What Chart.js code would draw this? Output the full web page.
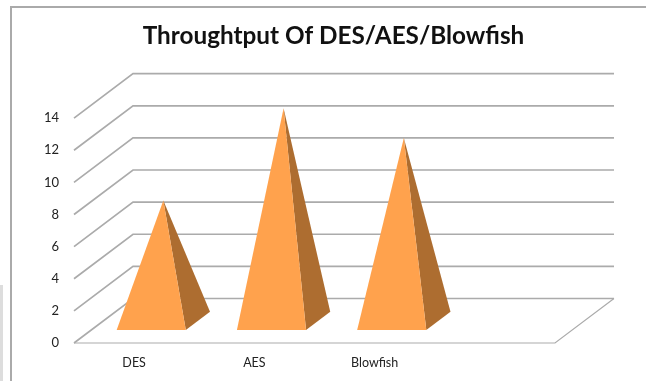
<!DOCTYPE html>
<html>
<head>
<meta charset="utf-8">
<title>Throughtput Of DES/AES/Blowfish</title>
<style>
  html, body { margin: 0; padding: 0; background: #fff; overflow: hidden; }
  #stage { position: relative; width: 646px; height: 381px; }
  #frame { position: absolute; left: 10px; top: 6px; right: -4px; bottom: -4px;
           border: 2px solid #aaa; box-sizing: border-box; }
  #sliver { position: absolute; left: 0; top: 285px; width: 3px; bottom: 0; background: #ddd; }
  canvas { position: absolute; left: 0; top: 0; }
</style>
<script src="https://cdn.jsdelivr.net/npm/chart.js@4"></script>
</head>
<body>
<div id="stage">
  <div id="frame"></div>
  <div id="sliver"></div>
  <canvas id="chart" width="646" height="381"></canvas>
</div>
<script>
const chartTitle = 'Throughtput Of DES/AES/Blowfish';
const categories = ['DES', 'AES', 'Blowfish', ''];
const throughput = [7.5, 13.25, 11.4, null];
const yMin = 0;
const yMax = 14;
const yStep = 2;

// Oblique projection of the 3-D box: how far the back wall sits from the front plane.
const DEPTH_X = 59;
const DEPTH_Y = 44.5;
// Front and back of each pyramid's footprint, as fractions of the box depth.
const BASE_FRONT = 0.29;
const BASE_BACK = 0.7;

const FRONT_FACE = '#FFA24D';
const SIDE_FACE = '#AD6D30';
const GRID_COLOR = '#ABABAB';
const TEXT_COLOR = '#222';
const FONT_FAMILY = 'Lato, "Open Sans", sans-serif';

const project = (x, y, depth) => [x + DEPTH_X * depth, y - DEPTH_Y * depth];

// A bar element that paints itself as a square pyramid on the floor of the box.
class PyramidElement extends Chart.BarElement {
  static id = 'pyramid';
  draw(ctx) {
    const half = this.width / 2;
    const tip = project(this.x, this.y, (BASE_FRONT + BASE_BACK) / 2);
    const frontLeft = project(this.x - half, this.base, BASE_FRONT);
    const frontRight = project(this.x + half, this.base, BASE_FRONT);
    const backRight = project(this.x + half, this.base, BASE_BACK);
    const face = (color, a, b) => {
      ctx.fillStyle = color;
      ctx.beginPath();
      ctx.moveTo(a[0], a[1]);
      ctx.lineTo(b[0], b[1]);
      ctx.lineTo(tip[0], tip[1]);
      ctx.closePath();
      ctx.fill();
    };
    ctx.save();
    face(SIDE_FACE, frontRight, backRight);
    face(FRONT_FACE, frontLeft, frontRight);
    ctx.restore();
  }
}

class PyramidController extends Chart.BarController {
  static id = 'pyramid';
  static defaults = { dataElementType: 'pyramid' };
  static overrides = Chart.BarController.overrides;
}

Chart.register(PyramidElement, PyramidController);

// Side-wall, back-wall and floor lines of the box, taken from the value axis.
const boxGrid = {
  id: 'boxGrid',
  beforeDatasetsDraw(chart) {
    const { ctx, chartArea, scales } = chart;
    const yScale = scales.y;
    const left = chartArea.left;
    const right = chartArea.right;
    ctx.save();
    ctx.strokeStyle = GRID_COLOR;
    ctx.lineWidth = 1.7;
    yScale.ticks.forEach(tick => {
      const y = yScale.getPixelForValue(tick.value);
      const back = project(left, y, 1);
      ctx.beginPath();
      ctx.moveTo(left, y);
      ctx.lineTo(back[0], back[1]);
      ctx.lineTo(right + DEPTH_X, back[1]);
      ctx.stroke();
    });
    const floorY = yScale.getPixelForValue(yMin);
    const corner = project(right, floorY, 1);
    ctx.lineWidth = 1.2;
    ctx.beginPath();
    ctx.moveTo(left, floorY);
    ctx.lineTo(right, floorY);
    ctx.lineTo(corner[0], corner[1]);
    ctx.stroke();
    ctx.restore();
  }
};

new Chart(document.getElementById('chart'), {
  type: 'pyramid',
  data: {
    labels: categories,
    datasets: [{
      label: 'Throughput',
      data: throughput,
      categoryPercentage: 1,
      barPercentage: 0.575,
      clip: false,
      backgroundColor: FRONT_FACE
    }]
  },
  options: {
    responsive: false,
    animation: false,
    layout: { padding: { left: 21, right: 0, top: 0, bottom: 0 } },
    plugins: {
      legend: { display: false },
      tooltip: { enabled: false },
      title: {
        display: true,
        text: chartTitle,
        color: '#111',
        font: { family: FONT_FAMILY, size: 24.3, weight: 'bold', lineHeight: 1.2 },
        padding: { top: 22, bottom: 67 }
      }
    },
    scales: {
      x: {
        type: 'category',
        grid: { display: false },
        border: { display: false },
        ticks: {
          color: TEXT_COLOR,
          font: { family: FONT_FAMILY, size: 12.5 },
          padding: 4,
          maxRotation: 0,
          autoSkip: false
        },
        afterFit(scale) { scale.height = 38; }
      },
      y: {
        type: 'linear',
        min: yMin,
        max: yMax,
        grid: { display: false },
        border: { display: false },
        ticks: {
          stepSize: yStep,
          color: TEXT_COLOR,
          font: { family: FONT_FAMILY, size: 13 },
          padding: 7
        },
        afterFit(scale) { scale.width = 53; }
      },
      // Empty axis that keeps the room the back wall runs into.
      rightGutter: {
        type: 'linear',
        position: 'right',
        grid: { display: false },
        border: { display: false },
        ticks: { display: false },
        afterFit(scale) { scale.width = 91; }
      }
    }
  },
  plugins: [boxGrid]
});
</script>
</body>
</html>
